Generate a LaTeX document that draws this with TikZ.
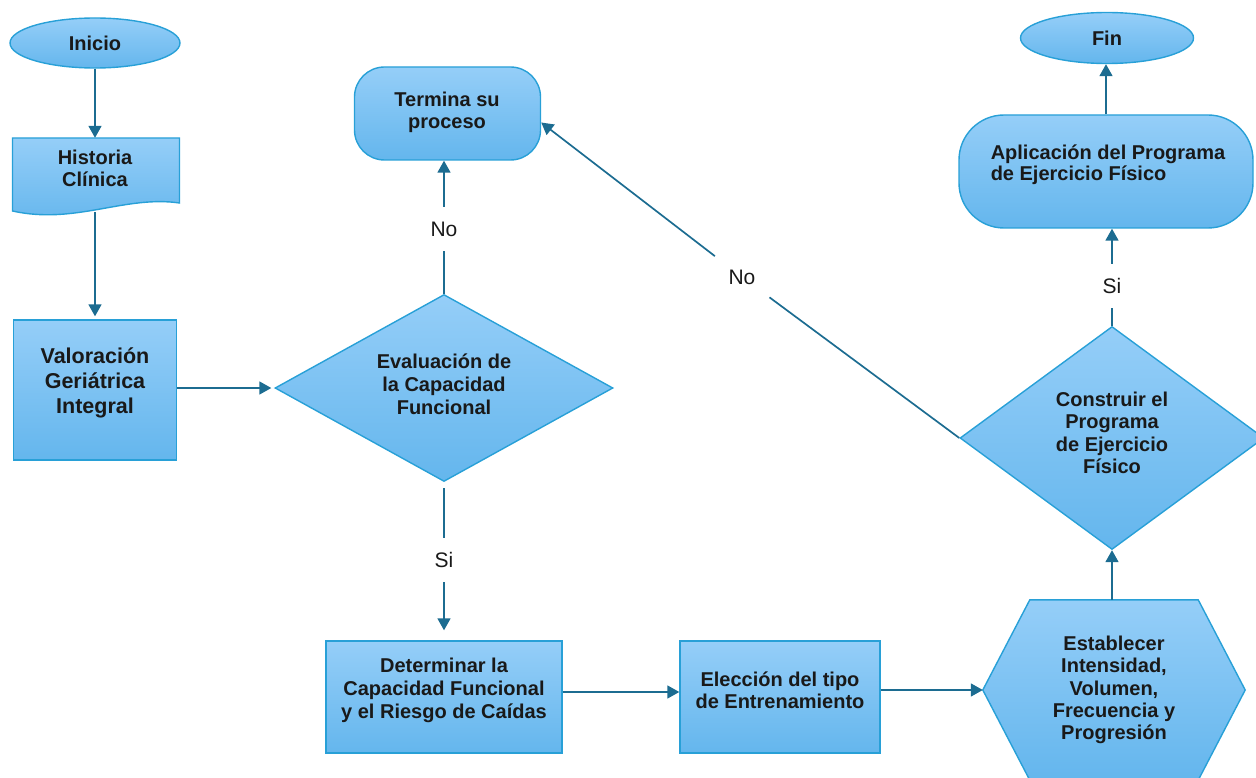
\documentclass[tikz,border=0pt]{standalone}
\usepackage{fontspec}
\setmainfont{Liberation Sans}
\usetikzlibrary{shapes.geometric,arrows.meta}
\definecolor{topc}{RGB}{149,206,248}
\definecolor{botc}{RGB}{100,182,237}
\definecolor{bordc}{RGB}{40,160,215}
\definecolor{arrc}{RGB}{28,108,145}
\definecolor{txtc}{RGB}{25,25,25}
\tikzset{
  shp/.style={draw=bordc, line width=1.4pt, top color=topc, bottom color=botc, inner sep=0pt},
  ghost/.style={draw=none, fill=none, inner sep=0pt},
  txt/.style={font=\fontsize{20}{23}\selectfont\bfseries, align=center, text=txtc, inner sep=0pt},
  arr/.style={draw=arrc, line width=1.7pt, -{Triangle[length=12pt,width=13pt]}},
  ln/.style={draw=arrc, line width=1.7pt},
  lbl/.style={circle, inner sep=0pt, minimum size=44pt, font=\fontsize{21}{24}\selectfont, text=txtc},
}
\begin{document}
\begin{tikzpicture}[x=1pt,y=-1pt]
\useasboundingbox (0,0) rectangle (1256,778);
\clip (0,0) rectangle (1256,778);

% Inicio
\node[shp, ellipse, minimum width=170pt, minimum height=50pt] (ini) at (95,43) {};
\node[txt] (tini) at (95,43) {Inicio};

% Historia Clinica (document shape)
\node[ghost, minimum width=167pt, minimum height=74pt] (hist) at (96,175) {};
\path[shp] (12.5,138) -- (179.5,138) -- (179.5,203)
  .. controls (125,195) and (75,225) .. (12.5,211) -- cycle;
\node[txt, font=\fontsize{20}{22}\selectfont\bfseries] (thist) at (95,168) {Historia\\Clínica};

% Valoracion
\node[shp, rectangle, minimum width=163pt, minimum height=140pt] (val) at (95,390) {};
\node[txt, font=\fontsize{21.5}{25}\selectfont\bfseries] (tval) at (95,383) {Valoración\\Geriátrica\\Integral};

% Evaluacion diamond
\node[shp, diamond, minimum width=338pt, minimum height=187pt] (eval) at (444,388) {};
\node[txt] (teval) at (444,384) {Evaluación de\\la Capacidad\\Funcional};

% Termina
\node[shp, rectangle, rounded corners=30pt, minimum width=186pt, minimum height=93pt] (term) at (447.5,113.5) {};
\node[txt, font=\fontsize{20}{22}\selectfont\bfseries] (tterm) at (447,112) {Termina su\\proceso};

% Determinar
\node[shp, rectangle, minimum width=236pt, minimum height=112pt] (det) at (444,697) {};
\node[txt] (tdet) at (444,690) {Determinar la\\Capacidad Funcional\\y el Riesgo de Caídas};

% Eleccion
\node[shp, rectangle, minimum width=200pt, minimum height=112pt] (elec) at (780,697) {};
\node[txt, font=\fontsize{20}{22}\selectfont\bfseries] (telec) at (780,690) {Elección del tipo\\de Entrenamiento};

% Hexagon
\node[ghost, minimum width=262pt, minimum height=180pt] (hex) at (1114,690) {};
\path[shp] (hex.west) -- ([xshift=47pt]hex.north west) -- ([xshift=-47pt]hex.north east)
  -- (hex.east) -- ([xshift=-47pt]hex.south east) -- ([xshift=47pt]hex.south west) -- cycle;
\node[txt, font=\fontsize{20}{22.3}\selectfont\bfseries] (thex) at (1114,690) {Establecer\\Intensidad,\\Volumen,\\Frecuencia y\\Progresión};

% Construir diamond
\node[shp, diamond, minimum width=304pt, minimum height=223pt] (cons) at (1112,438) {};
\node[txt, font=\fontsize{20}{22.5}\selectfont\bfseries] (tcons) at (1112,433) {Construir el\\Programa\\de Ejercicio\\Físico};

% Aplicacion
\node[shp, rectangle, rounded corners=45pt, minimum width=294pt, minimum height=113pt] (apl) at (1106,171.5) {};
\node[txt, align=left, font=\fontsize{20}{21}\selectfont\bfseries] (tapl) at (1108,165) {Aplicación del Programa\\de Ejercicio Físico};

% Fin
\node[shp, ellipse, minimum width=173pt, minimum height=51pt] (fin) at (1107,38) {};
\node[txt] (tfin) at (1107,38) {Fin};

% labels
\node[lbl] (no1) at (444,229) {No};
\node[lbl] (si1) at (444,560) {Si};
\node[lbl] (si2) at (1112,286) {Si};
\node[lbl, minimum size=68pt] (no2) at (742,277) {No};

% connectors
\draw[arr] (ini.south) -- (ini.south |- hist.north);
\draw[arr, shorten >=3pt] (val.north |- hist.south) -- (val.north);
\draw[arr, shorten >=3pt] (val.east |- eval.west) -- (eval.west);
\draw[ln] (eval.north) -- (no1);
\draw[arr] (no1) -- (no1 |- term.south);
\draw[ln, shorten <=6pt] (eval.south) -- (si1);
\draw[arr, shorten >=10pt] (si1) -- (det.north);
\draw[arr] ([yshift=5pt]det.east) -- ([yshift=5pt]det.east -| elec.west);
\draw[arr] (elec.east |- hex.west) -- (hex.west);
\draw[arr] (cons.south |- hex.north) -- (cons.south);
\draw[ln] (cons.north) -- (si2);
\draw[arr] (si2) -- (si2 |- apl.south);
\draw[arr] (apl.north) -- (apl.north |- fin.south);
\draw[ln] (cons.west) -- (no2);
\draw[arr] (no2) -- ([yshift=-9pt]term.east);
\end{tikzpicture}
\end{document}
